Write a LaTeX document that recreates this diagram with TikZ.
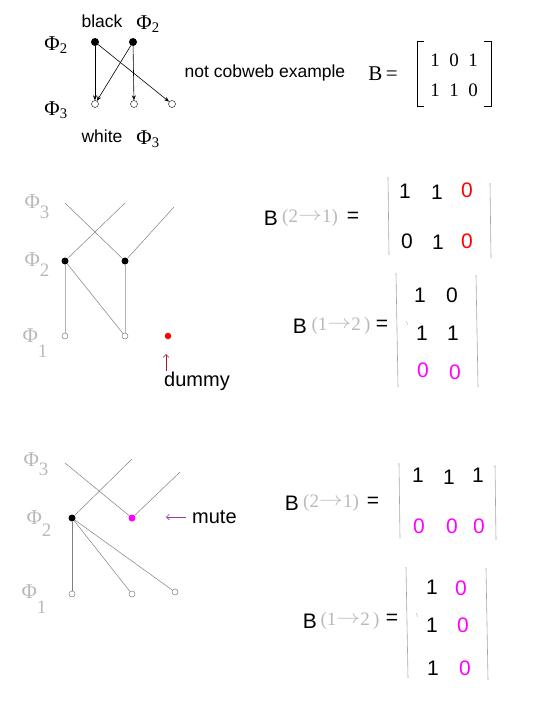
\documentclass[tikz,border=0pt]{standalone}
\usepackage{graphicx}
\usepackage{fontspec}
\setmainfont{Liberation Serif}
\setsansfont{Liberation Sans}
\usetikzlibrary{arrows.meta, positioning}
\definecolor{pinkish}{RGB}{255,0,255}
\definecolor{dummyred}{RGB}{160,30,30}
\definecolor{mutepurple}{RGB}{150,60,150}
\tikzstyle{arrow} = [->, >={Stealth[length=5pt,width=4pt]}, line width=0.6pt]
\tikzstyle{bar} = [gray!70, line width=0.6pt]
\newcommand{\gsub}[2]{\raisebox{#1}{\fontsize{19}{21}\selectfont #2}}
\newcommand{\garrow}{\raisebox{2.5pt}{\resizebox*{24pt}{7pt}{$\rightarrow$}}}

\begin{document}
\begin{tikzpicture}[
        x=1pt, y=-1pt,
        every node/.style={inner sep=0pt, font=\sffamily\fontsize{17.5}{20}\selectfont},
        big/.style={font=\sffamily\fontsize{21}{24}\selectfont},
        label20/.style={font=\sffamily\fontsize{20}{23}\selectfont},
        serif/.style={font=\rmfamily\fontsize{21}{24}\selectfont},
        tnum/.style={font=\rmfamily\fontsize{19}{22}\selectfont},
        phi/.style={font=\rmfamily\fontsize{21}{24}\selectfont, text=gray!55},
        arrowtxt/.style={font=\rmfamily\fontsize{19}{22}\selectfont, text=gray!55},
        bdot/.style={circle, fill=black, minimum size=8pt},
        wdot/.style={circle, draw, fill=white, minimum size=7pt},
        sbdot/.style={circle, fill=black, minimum size=7pt},
        swdot/.style={circle, draw=gray, fill=white, line width=0.5pt, minimum size=6pt},
        link/.style={gray, line width=0.5pt},
        vlink/.style={gray!60, line width=0.9pt}
    ]
    \useasboundingbox (0,0) rectangle (545,705);

    % top: not cobweb example
    \node (lblack) at (102,21) {black};
    \node (lphi2)  [serif] at (148,24) {Φ\textsubscript{2}};
    \node (rphi2)  [serif] at (56,45)  {Φ\textsubscript{2}};
    \node (rphi3)  [serif] at (56,110) {Φ\textsubscript{3}};
    \node (lwhite) at (102,136) {white};
    \node (lphi3)  [serif] at (148,139) {Φ\textsubscript{3}};
    \node (b1) [bdot] at (95,42)  {};
    \node (b2) [bdot] at (133,42) {};
    \node (w1) [wdot] at (95,104)  {};
    \node (w2) [wdot] at (134,104) {};
    \node (w3) [wdot] at (172,104) {};
    \draw [arrow] (b1) -- (w1);
    \draw [arrow] (b1) -- (w3);
    \draw [arrow] (b2) -- (w1);
    \draw [arrow] (b2) -- (w2);
    \node (note) at (265,73) {not cobweb example};
    \node (beq)  [serif] at (383,74) {B\,=};
    \foreach \v [count=\i] in {1,0,1} {
        \node (ta\i) [tnum] at (416+19*\i,60) {\v};
    }
    \foreach \v [count=\i] in {1,1,0} {
        \node (tb\i) [tnum] at (416+19*\i,90) {\v};
    }
    \coordinate (tl1) at (424,41);  \coordinate (tl2) at (424,106);
    \coordinate (tr1) at (484,41);  \coordinate (tr2) at (484,106);
    \draw [line width=0.8pt] (tl1) -| (417,106) -- (tl2);
    \draw [line width=0.8pt] (tr1) -| (491,106) -- (tr2);

    % middle: dummy
    \node (mphi3) [phi] at (37,207) {Φ\gsub{-10pt}{3}};
    \node (mphi2) [phi] at (37,265) {Φ\gsub{-10pt}{2}};
    \node (mphi1) [phi] at (35,343) {Φ\gsub{-15pt}{1}};
    \coordinate (mt1) at (65,203);
    \coordinate (mt2) at (125,203);
    \coordinate (mt3) at (174,207);
    \node (mb1) [sbdot] at (65,261)  {};
    \node (mb2) [sbdot] at (125,261) {};
    \node (mw1) [swdot] at (65,336)  {};
    \node (mw2) [swdot] at (125,336) {};
    \node (mdum) [circle, fill=red, minimum size=6.5pt] at (168,336) {};
    \draw [link] (mb1) -- (mt2);
    \draw [link] (mt1) -- (mb2);
    \draw [link] (mb2) -- (mt3);
    \draw [vlink] (mb1) -- (mw1);
    \draw [vlink] (mb2) -- (mw2);
    \draw [link] (mb1) -- (mw2);
    \node (ldummy) [label20, anchor=west] at (164,381) {dummy};
    \coordinate (dtip) at (166,354);
    \draw [->, >={Straight Barb[length=3pt]}, dummyred, line width=0.6pt] (166,371) -- (dtip);

    \node (mB1) [big] at (271,218) {B};
    \node (mA1) [arrowtxt] at (310,218) {(2\garrow1)};
    \node (mE1) [big] at (353,217) {=};
    \coordinate (ml1a) at (388,177); \coordinate (ml1b) at (389,255);
    \coordinate (mr1a) at (490,183); \coordinate (mr1b) at (491,258);
    \draw [bar] (ml1a) -- (ml1b);
    \draw [bar] (mr1a) -- (mr1b);
    \node (m11) [big] at (405,191) {1};
    \node (m12) [big] at (437,192) {1};
    \node (m13) [big, text=red] at (467,190) {0};
    \node (m21) [big] at (407,241) {0};
    \node (m22) [big] at (438,242) {1};
    \node (m23) [big, text=red] at (467,241) {0};

    \node (mB2) [big] at (300,326) {B};
    \node (mA2) [arrowtxt] at (341,326) {(1\garrow2\,)};
    \node (mE2) [big] at (382,325) {=};
    \coordinate (ml2a) at (396,273); \coordinate (ml2b) at (398,387);
    \coordinate (mr2a) at (476,275); \coordinate (mr2b) at (478,387);
    \draw [bar] (ml2a) -- (ml2b);
    \draw [bar] (mr2a) -- (mr2b);
    \draw [bar, line width=0.4pt] (406,321) -- (408,325);
    \node (n11) [big] at (420,295) {1};
    \node (n12) [big] at (452,295) {0};
    \node (n21) [big] at (422,333) {1};
    \node (n22) [big] at (453,333) {1};
    \node (n31) [big, text=pinkish] at (423,370) {0};
    \node (n32) [big, text=pinkish] at (455,372) {0};

    % bottom: mute
    \node (bphi3) [phi] at (36,464) {Φ\gsub{-9pt}{3}};
    \node (bphi2) [phi] at (39,524) {Φ\gsub{-12pt}{2}};
    \node (bphi1) [phi] at (34,599) {Φ\gsub{-15pt}{1}};
    \coordinate (bt1) at (65,463);
    \coordinate (bt2) at (132,459);
    \coordinate (bt3) at (180,472);
    \node (bb1) [sbdot] at (72,518) {};
    \node (bmute) [circle, fill=pinkish, minimum size=7pt] at (132,518) {};
    \node (bw1) [swdot] at (72,594)  {};
    \node (bw2) [swdot] at (132,594) {};
    \node (bw3) [swdot] at (175,592) {};
    \draw [link] (bb1) -- (bt2);
    \draw [link] (bt1) -- (bmute);
    \draw [link] (bmute) -- (bt3);
    \draw [link] (bb1) -- (bw1);
    \draw [link] (bb1) -- (bw2);
    \draw [link] (bb1) -- (bw3);
    \node (lmute) [label20, anchor=west] at (192,517) {mute};
    \coordinate (mtip) at (166,517);
    \draw [->, >={Straight Barb[length=3pt]}, mutepurple, line width=0.6pt] (186,517) -- (mtip);

    \node (bB1) [big] at (292,503) {B};
    \node (bA1) [arrowtxt] at (331,503) {(2\garrow1)};
    \node (bE1) [big] at (373,502) {=};
    \coordinate (bl1a) at (399,463); \coordinate (bl1b) at (400,538);
    \coordinate (br1a) at (495,465); \coordinate (br1b) at (496,540);
    \draw [bar] (bl1a) -- (bl1b);
    \draw [bar] (br1a) -- (br1b);
    \node (p11) [big] at (418,475) {1};
    \node (p12) [big] at (449,477) {1};
    \node (p13) [big] at (478,475) {1};
    \node (p21) [big, text=pinkish] at (419,526) {0};
    \node (p22) [big, text=pinkish] at (452,526) {0};
    \node (p23) [big, text=pinkish] at (479,526) {0};

    \node (bB2) [big] at (310,621) {B};
    \node (bA2) [arrowtxt] at (350,621) {(1\garrow2\,)};
    \node (bE2) [big] at (392,619) {=};
    \coordinate (bl2a) at (406,567); \coordinate (bl2b) at (408,678);
    \coordinate (br2a) at (486,568); \coordinate (br2b) at (488,680);
    \draw [bar] (bl2a) -- (bl2b);
    \draw [bar] (br2a) -- (br2b);
    \draw [bar, line width=0.4pt] (416,613) -- (418,617);
    \node (q11) [big] at (432,587) {1};
    \node (q12) [big, text=pinkish] at (461,588) {0};
    \node (q21) [big] at (432,625) {1};
    \node (q22) [big, text=pinkish] at (463,625) {0};
    \node (q31) [big] at (433,668) {1};
    \node (q32) [big, text=pinkish] at (465,668) {0};
\end{tikzpicture}
\end{document}
